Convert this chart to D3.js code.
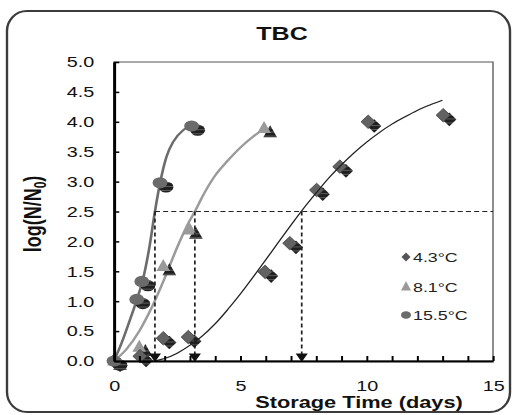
<!DOCTYPE html>
<html>
<head>
<meta charset="utf-8">
<script src="https://cdn.jsdelivr.net/npm/d3@7"></script>
<style>
  html, body { margin: 0; padding: 0; background: #fff; }
  svg { display: block; }
  text { font-family: "Liberation Sans", Arial, sans-serif; }
</style>
</head>
<body>
<script>
// Observed growth, log(N/N0), per storage temperature
const days43 = [0, 1.03, 1.95, 2.94, 5.98, 6.96, 8.02, 8.94, 10.06, 13.03];
const log43  = [0, 0.08, 0.38, 0.40, 1.49, 1.97, 2.86, 3.25, 4.00, 4.11];
const days81 = [0, 1.0, 1.95, 3.0, 5.94];
const log81  = [0, 0.23, 1.58, 2.19, 3.89];
const days155 = [0, 0.9, 1.1, 1.82, 3.07];
const log155  = [0, 1.03, 1.33, 2.98, 3.93];

// Fitted growth curves
const fitDays43 = [1.6, 2, 2.5, 3, 3.5, 4, 4.5, 5, 5.5, 6, 6.5, 7, 7.5, 8, 8.5, 9, 9.5, 10, 10.5, 11, 11.5, 12, 12.5, 13];
const fitLog43  = [0, 0.04, 0.13, 0.26, 0.42, 0.62, 0.86, 1.12, 1.40, 1.69, 1.98, 2.27, 2.55, 2.81, 3.06, 3.28, 3.48, 3.66, 3.82, 3.96, 4.08, 4.19, 4.28, 4.36];
const fitDays81 = [0, 0.5, 1.0, 1.5, 2.0, 2.5, 3.0, 3.2, 3.5, 4.0, 4.5, 5.0, 5.5, 5.9];
const fitLog81  = [0, 0.2, 0.5, 0.9, 1.38, 1.9, 2.35, 2.5, 2.75, 3.1, 3.35, 3.57, 3.75, 3.87];
const fitDays155 = [0, 0.3, 0.6, 0.9, 1.16, 1.4, 1.62, 1.82, 2.08, 2.35, 2.74, 3.0];
const fitLog155  = [0, 0.3, 0.65, 1.02, 1.39, 1.9, 2.5, 2.97, 3.42, 3.67, 3.86, 3.93];

// Threshold level and the times each curve reaches it
const threshold = 2.5;
const thresholdDays = [1.62, 3.2, 7.43];

const legendLabels = ["4.3°C", "8.1°C", "15.5°C"];
const yTickValues = [0, 0.5, 1, 1.5, 2, 2.5, 3, 3.5, 4, 4.5, 5];
const xTickValues = d3.range(0, 16);
const xLabelValues = [0, 5, 10, 15];

const W = 512, H = 415;
const sx = 1.32; // horizontal stretch of the drawing

const svg = d3.select("body").append("svg").attr("width", W).attr("height", H);
const g = svg.append("g").attr("transform", `scale(${sx},1)`);

const defs = svg.append("defs");
const pat = defs.append("pattern").attr("id", "shade").attr("patternUnits", "userSpaceOnUse")
  .attr("width", 4).attr("height", 4);
pat.append("rect").attr("width", 4).attr("height", 4).attr("fill", "#1f1f1f");
pat.append("rect").attr("y", 3).attr("width", 4).attr("height", 0.8).attr("fill", "#6a6a6a");

const x = d3.scaleLinear().domain([0, 15]).range([114 / sx, 493 / sx]);
const y = d3.scaleLinear().domain([0, 5]).range([361, 62]);

// outer rounded frame
g.append("rect").attr("x", 7 / sx).attr("y", 11).attr("width", 503 / sx).attr("height", 401)
  .attr("rx", 15).attr("ry", 20).attr("fill", "none").attr("stroke", "#3c3c3c").attr("stroke-width", 1.8);

// plot area border
g.append("rect").attr("x", x(0)).attr("y", y(5)).attr("width", x(15) - x(0)).attr("height", y(0) - y(5))
  .attr("fill", "none").attr("stroke", "#555").attr("stroke-width", 1);

// title
g.append("text").attr("x", 282 / sx).attr("y", 40).attr("text-anchor", "middle")
  .attr("font-size", 19).attr("font-weight", "bold").attr("fill", "#111").text("TBC");

const line = d3.line().x(d => x(d[0])).y(d => y(d[1])).curve(d3.curveMonotoneX);
const zip = (a, b) => a.map((v, i) => [v, b[i]]);

// symbol paths (local coordinates)
const diamondPath = (w, h) => `M0,${-h}L${w},0L0,${h}L${-w},0Z`;
const trianglePath = (w, h) => `M0,${-h * 0.62}L${w},${h * 0.38}L${-w},${h * 0.38}Z`;

function drawSeries(days, vals, kind, fill) {
  const grp = g.append("g");
  const pts = zip(days, vals);
  const shapes = (sel, dx, dy, color, stroke) => {
    const sg = sel.selectAll(null).data(pts).enter().append("g")
      .attr("transform", d => `translate(${x(d[0]) + dx},${y(d[1]) + dy})`);
    if (kind === "circle") {
      sg.append("circle").attr("r", 5.6).attr("fill", color);
    } else if (kind === "triangle") {
      sg.append("path").attr("d", trianglePath(5.2, 12)).attr("fill", color);
    } else {
      sg.append("path").attr("d", diamondPath(5.4, 6.8)).attr("fill", color)
        .attr("stroke", stroke || "none").attr("stroke-width", 0.6);
    }
  };
  shapes(grp, 4.6, 4.2, "url(#shade)");
  shapes(grp, 0, 0, fill, "#333");
}

// fitted curves for the two warmer temperatures
g.append("path").datum(zip(fitDays81, fitLog81)).attr("d", line)
  .attr("fill", "none").attr("stroke", "#9b9b9b").attr("stroke-width", 2);
g.append("path").datum(zip(fitDays155, fitLog155)).attr("d", line)
  .attr("fill", "none").attr("stroke", "#6c6c6c").attr("stroke-width", 2);

drawSeries(days81, log81, "triangle", "#9a9a9a");
drawSeries(days43, log43, "diamond", "#626262");
drawSeries(days155, log155, "circle", "#6b6b6b");

g.append("path").datum(zip(fitDays43, fitLog43)).attr("d", line)
  .attr("fill", "none").attr("stroke", "#222").attr("stroke-width", 1.1);

// threshold guide lines
g.append("line").attr("x1", x(thresholdDays[0])).attr("x2", x(15))
  .attr("y1", y(threshold)).attr("y2", y(threshold))
  .attr("stroke", "#222").attr("stroke-width", 1.1).attr("stroke-dasharray", "3.8,2.4");
g.selectAll(null).data(thresholdDays).enter().append("line")
  .attr("x1", d => x(d)).attr("x2", d => x(d))
  .attr("y1", y(threshold)).attr("y2", y(0) - 5)
  .attr("stroke", "#222").attr("stroke-width", 1.3).attr("stroke-dasharray", "4,3");
g.selectAll(null).data(thresholdDays).enter().append("path")
  .attr("transform", d => `translate(${x(d)},${y(0)})`)
  .attr("d", "M-4.6,-7.5L4.6,-7.5L0,1Z").attr("fill", "#111");

// axes
const yAxis = d3.axisLeft(y).tickValues(yTickValues).tickFormat(d3.format(".1f"))
  .tickSizeInner(-4).tickSizeOuter(0).tickPadding(15);
const ya = g.append("g").attr("transform", `translate(${x(0)},0)`).call(yAxis);
ya.select(".domain").attr("stroke", "#000").attr("stroke-width", 2.2);
ya.selectAll(".tick line").attr("stroke", "#000").attr("stroke-width", 1.5);
ya.selectAll(".tick text").attr("font-size", 15).attr("fill", "#111")
  .attr("font-family", "'Liberation Sans', Arial, sans-serif");

const xAxis = d3.axisBottom(x).tickValues(xTickValues)
  .tickFormat(d => xLabelValues.includes(d) ? d : "")
  .tickSizeInner(-5).tickSizeOuter(0).tickPadding(19);
const xa = g.append("g").attr("transform", `translate(0,${y(0)})`).call(xAxis);
xa.select(".domain").attr("stroke", "#000").attr("stroke-width", 2);
xa.selectAll(".tick line").attr("stroke", "#000").attr("stroke-width", 1.5);
xa.selectAll(".tick text").attr("font-size", 15).attr("fill", "#111")
  .attr("font-family", "'Liberation Sans', Arial, sans-serif");

// axis titles
g.append("text").attr("x", 359 / sx).attr("y", 408).attr("text-anchor", "middle")
  .attr("font-size", 16.5).attr("font-weight", "bold").attr("fill", "#111")
  .text("Storage Time (days)");

const yt = g.append("text").attr("transform", `translate(${41 / sx},214) rotate(-90)`)
  .attr("text-anchor", "middle").attr("font-size", 18).attr("font-weight", "bold").attr("fill", "#111");
yt.append("tspan").text("log(N/N");
yt.append("tspan").attr("font-size", 12).attr("dy", 4).text("0");
yt.append("tspan").attr("dy", -4).text(")");

// legend
const legendY = [257, 287, 315];
const legendKinds = ["diamond", "triangle", "circle"];
const legendFill = ["#555", "#9a9a9a", "#6b6b6b"];
const lg = g.append("g");
legendLabels.forEach((lab, i) => {
  const m = lg.append("g").attr("transform", `translate(${406 / sx},${legendY[i]})`);
  if (legendKinds[i] === "diamond") m.append("path").attr("d", diamondPath(3.4, 4.6)).attr("fill", legendFill[i]);
  else if (legendKinds[i] === "triangle") m.append("path").attr("d", trianglePath(3.8, 9.5)).attr("fill", legendFill[i]);
  else m.append("circle").attr("r", 3.8).attr("fill", legendFill[i]);
  lg.append("text").attr("x", 413 / sx).attr("y", legendY[i] + 5).attr("font-size", 13.5)
    .attr("fill", "#222").text(lab);
});
</script>
</body>
</html>
